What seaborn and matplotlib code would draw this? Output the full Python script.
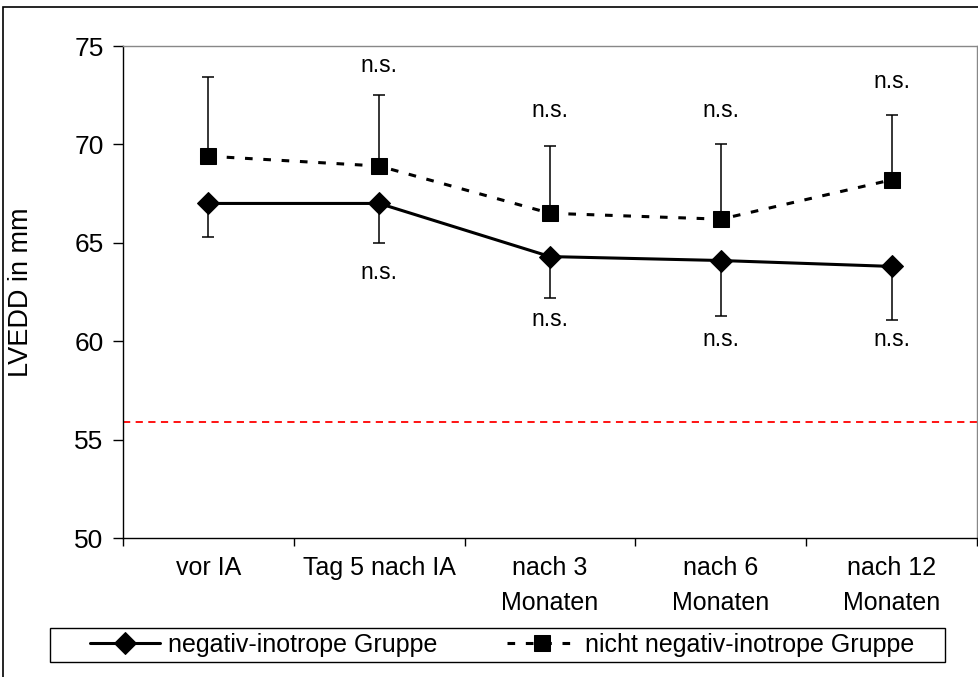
import numpy as np
import pandas as pd
import matplotlib
matplotlib.use("Agg")
import matplotlib.pyplot as plt
import seaborn as sns
from matplotlib.patches import Rectangle

categories = ["vor IA", "Tag 5 nach IA", "nach 3\nMonaten", "nach 6\nMonaten", "nach 12\nMonaten"]
neg_mean = [67.0, 67.0, 64.3, 64.1, 63.8]
neg_low = [65.3, 65.0, 62.2, 61.3, 61.1]
non_mean = [69.4, 68.9, 66.5, 66.2, 68.2]
non_high = [73.4, 72.5, 69.9, 70.0, 71.5]
ns_upper_y = [None, 74.0, 71.7, 71.7, 73.2]
ns_lower_y = [None, 63.5, 61.1, 60.1, 60.1]
ref_line = 55.9
neg_label = "negativ-inotrope Gruppe"
non_label = "nicht negativ-inotrope Gruppe"

sns.set_theme(style="white")
plt.rcParams['font.family'] = ['Liberation Sans', 'DejaVu Sans']
plt.rcParams['text.color'] = 'black'
plt.rcParams['axes.labelcolor'] = 'black'
plt.rcParams['xtick.color'] = 'black'
plt.rcParams['ytick.color'] = 'black'

W, H = 979, 677
fig = plt.figure(figsize=(9.79, 6.77), dpi=100)
ax = fig.add_axes([123/W, 1-538/H, (977-123)/W, (538-46)/H])

x = np.arange(len(categories))
df = pd.DataFrame({"x": np.concatenate([x, x]),
                   "y": neg_mean + non_mean,
                   "g": [neg_label]*5 + [non_label]*5})

ax.errorbar(x, neg_mean, yerr=[np.array(neg_mean)-np.array(neg_low), np.zeros(5)],
            fmt="none", ecolor="black", elinewidth=1.1, capsize=4.5, capthick=1.1, zorder=2)
ax.errorbar(x, non_mean, yerr=[np.zeros(5), np.array(non_high)-np.array(non_mean)],
            fmt="none", ecolor="black", elinewidth=1.1, capsize=4.5, capthick=1.1, zorder=2)

sns.lineplot(data=df[df.g == neg_label], x="x", y="y", ax=ax, color="black",
             linewidth=2.2, marker="D", markersize=11, markeredgecolor="black",
             label=neg_label, zorder=3)
sns.lineplot(data=df[df.g == non_label], x="x", y="y", ax=ax, color="black",
             linewidth=2.2, linestyle=(0, (2.5, 3.5)), marker="s", markersize=11,
             markeredgecolor="black", label=non_label, zorder=3)

ax.axhline(ref_line, color="red", linestyle=(0, (4, 3)), linewidth=1.3, zorder=1)

for i in range(len(categories)):
    if ns_upper_y[i] is not None:
        ax.text(x[i], ns_upper_y[i], "n.s.", ha="center", va="center", fontsize=16.5)
    if ns_lower_y[i] is not None:
        ax.text(x[i], ns_lower_y[i], "n.s.", ha="center", va="center", fontsize=16.5)

ax.set_xlim(-0.5, 4.5)
ax.set_ylim(50, 75)
ax.set_yticks([50, 55, 60, 65, 70, 75])
ax.set_yticklabels(["50", "55", "60", "65", "70", "75"], fontsize=19)
ax.set_xticks(np.arange(-0.5, 5, 1.0))
ax.set_xticklabels([])
ax.set_xticks(x, minor=True)
ax.set_xticklabels(categories, minor=True, fontsize=18, linespacing=1.6)
ax.tick_params(axis="x", which="major", direction="out", length=6, width=1, color="black", bottom=True)
ax.tick_params(axis="x", which="minor", length=0, pad=13)
ax.tick_params(axis="y", direction="out", length=7, width=1, color="black", left=True, pad=7)
ax.set_xlabel("")
ax.set_ylabel("LVEDD in mm", fontsize=19.5)
ax.yaxis.set_label_coords((34-123)/854, 0.5)

for s in ["left", "bottom"]:
    ax.spines[s].set_color("black")
    ax.spines[s].set_linewidth(1)
for s in ["top", "right"]:
    ax.spines[s].set_color("#888888")
    ax.spines[s].set_linewidth(1)

ax.get_legend().remove()
h, l = ax.get_legend_handles_labels()
leg = fig.legend(h, l, loc="center left", ncol=2, bbox_to_anchor=(90/W, 1-645/H),
                 frameon=False, fontsize=18, handlelength=2.8,
                 borderpad=0, columnspacing=2.8, handletextpad=0.32, borderaxespad=0)
fig.patches.append(Rectangle((50/W, 1-662/H), (945-50)/W, 34/H, transform=fig.transFigure,
                             fill=False, edgecolor="black", linewidth=1.0))

fig.patches.append(Rectangle((3/W, -0.05), 1.0, 1-7/H+0.05, transform=fig.transFigure,
                             fill=False, edgecolor="black", linewidth=1.2))

fig.savefig("out.png", dpi=100)
